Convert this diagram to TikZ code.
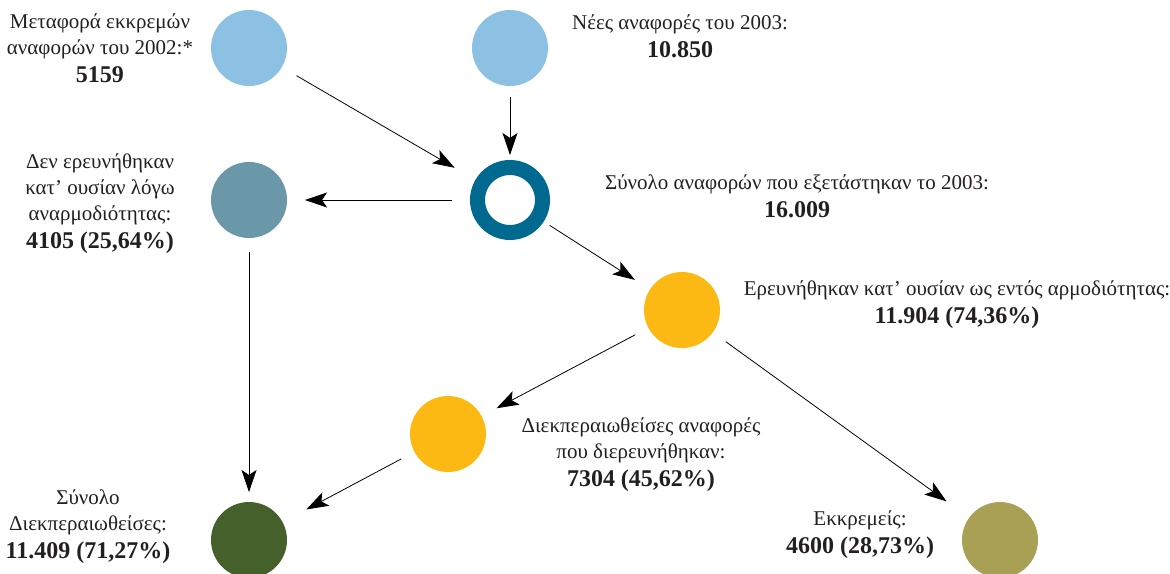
\documentclass[tikz,border=0pt]{standalone}
\usepackage{fontspec}
\setmainfont{Liberation Serif}
\usetikzlibrary{arrows.meta}
\definecolor{lblue}{HTML}{8DC1E3}
\definecolor{tealgray}{HTML}{6B98A8}
\definecolor{ringblue}{HTML}{00698F}
\definecolor{ambery}{HTML}{FDB913}
\definecolor{dgreen}{HTML}{45602A}
\definecolor{olive}{HTML}{A8A155}
\definecolor{inkgray}{HTML}{231F20}
\newcommand{\num}[1]{{\fontsize{24}{26}\selectfont\bfseries #1}}
\tikzset{
  dot/.style={circle, minimum size=76pt, inner sep=0pt, outer sep=0pt, fill=#1},
  ringnode/.style={circle, minimum size=65pt, inner sep=0pt, draw=ringblue, line width=15pt, fill=white},
  lbl/.style={align=center, inner sep=0pt, text=inkgray, font=\fontsize{21}{26}\selectfont},
  arr/.style={draw=black, line width=0.8pt, -{Stealth[length=22pt,width=15pt,inset=5pt]}},
}
\begin{document}
\begin{tikzpicture}[x=1pt,y=-1pt]
\useasboundingbox (0,0) rectangle (1170,573);
\node[dot=lblue] (c1) at (249,48) {};
\node[dot=lblue] (c2) at (510,48) {};
\node[ringnode] (ring) at (510,200) {};
\node[dot=tealgray] (c3) at (249,200) {};
\node[dot=ambery] (c4) at (682,310) {};
\node[dot=ambery] (c5) at (448,434) {};
\node[dot=dgreen] (c6) at (249,540) {};
\node[dot=olive] (c7) at (1000,540) {};

\node[lbl] (t1) at (100,48) {Μεταφορά εκκρεμών\\αναφορών του 2002:*\\[2pt]\num{5159}};
\node[lbl] (t2) at (680,36) {Νέες αναφορές του 2003:\\[2pt]\num{10.850}};
\node[lbl] (t3) at (100,204) {Δεν ερευνήθηκαν\\κατ’ ουσίαν λόγω\\αναρμοδιότητας:\\[2pt]\num{4105 (25,64\%)}};
\node[lbl] (t4) at (797,196) {Σύνολο αναφορών που εξετάστηκαν το 2003:\\[2pt]\num{16.009}};
\node[lbl] (t5) at (957,305) {Ερευνήθηκαν κατ’ ουσίαν ως εντός αρμοδιότητας:\\[2pt]\num{11.904 (74,36\%)}};
\node[lbl] (t6) at (641,455) {Διεκπεραιωθείσες αναφορές\\που διερευνήθηκαν:\\[2pt]\num{7304 (45,62\%)}};
\node[lbl] (t7) at (88,527) {Σύνολο\\Διεκπεραιωθείσες:\\[2pt]\num{11.409 (71,27\%)}};
\node[lbl] (t8) at (860,535) {Εκκρεμείς:\\[2pt]\num{4600 (28,73\%)}};

\draw[arr, shorten <=17pt, shorten >=24pt] (c1) -- (ring);
\draw[arr, shorten <=11pt, shorten >=5pt] (c2) -- (ring);
\draw[arr, shorten <=18pt, shorten >=18pt] (ring) -- (c3);
\draw[arr, shorten <=7pt, shorten >=18pt] (ring) -- (c4);
\draw[arr, shorten <=15pt, shorten >=17pt] (c4) -- (c5);
\draw[arr, shorten <=16pt, shorten >=28pt] (c4) -- (c7);
\draw[arr, shorten <=14pt, shorten >=10pt] (c3) -- (c6);
\draw[arr, shorten <=15pt, shorten >=27pt] (c5) -- (c6);
\end{tikzpicture}
\end{document}
